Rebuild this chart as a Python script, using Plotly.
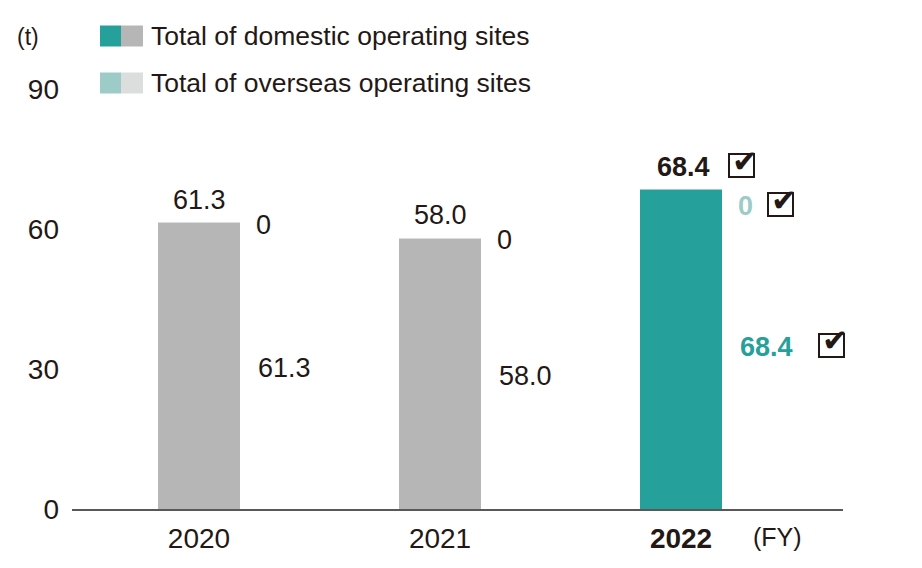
import plotly.graph_objects as go

# data
years = ["2020", "2021", "2022"]
domestic = [61.3, 58.0, 68.4]
overseas = [0, 0, 0]
totals = [61.3, 58.0, 68.4]
y_ticks = [0, 30, 60, 90]

TEAL = "#25a09a"
GRAY = "#b5b6b5"
LIGHT_TEAL = "#9dcbc8"
LIGHT_GRAY = "#dcdddd"
TEXT = "#231815"
FONT = "Liberation Sans"

# plot area in page pixels (page has an 8px body margin)
PL, PR, PT, PB = 72, 843, 89, 509
PW, PH = PR - PL, PB - PT


def px(xpix):
    return (xpix - PL) / PW


def py(ypix):
    return (PB - ypix) / PH


x_pos = list(range(len(years)))
latest = len(years) - 1

fig = go.Figure()
fig.add_trace(go.Bar(
    x=x_pos, y=domestic, width=0.34,
    marker=dict(color=[TEAL if i == latest else GRAY for i in x_pos], line=dict(width=0)),
    showlegend=False, hoverinfo="skip",
))
fig.add_trace(go.Bar(
    x=x_pos, y=overseas, width=0.34,
    marker=dict(color=[LIGHT_TEAL if i == latest else LIGHT_GRAY for i in x_pos],
                line=dict(width=1, color=[LIGHT_TEAL if i == latest else LIGHT_GRAY for i in x_pos])),
    showlegend=False, hoverinfo="skip",
))

annotations = []


def check(x, y, xshift, yshift):
    # box with a heavy check mark poking out of its top right corner
    annotations.append(dict(x=x, y=y, xref="x", yref="y", text=" ", showarrow=False,
                            xshift=xshift, yshift=yshift, width=23, height=21,
                            borderwidth=2, bordercolor=TEXT, borderpad=0,
                            font=dict(size=4)))
    annotations.append(dict(x=x, y=y, xref="x", yref="y", text="✔", showarrow=False,
                            xshift=xshift + 4, yshift=yshift + 5,
                            font=dict(family="DejaVu Sans", size=31, color=TEXT)))


for i in x_pos:
    hl = i == latest
    # total above bar
    annotations.append(dict(
        x=i, y=totals[i], xref="x", yref="y",
        text=f"<b>{totals[i]}</b>" if hl else str(totals[i]),
        showarrow=False, yshift=23, xshift=2 if hl else 0,
        font=dict(family=FONT, size=27, color=TEXT),
    ))
    # overseas value at top right
    annotations.append(dict(
        x=i, y=domestic[i] + overseas[i], xref="x", yref="y",
        text=f"<b>{overseas[i]}</b>" if hl else str(overseas[i]),
        showarrow=False, xanchor="left", xshift=55, yshift=-16 if hl else -2,
        font=dict(family=FONT, size=27, color=LIGHT_TEAL if hl else TEXT),
    ))
    # domestic value at middle right
    annotations.append(dict(
        x=i, y=domestic[i] / 2, xref="x", yref="y",
        text=f"<b>{domestic[i]}</b>" if hl else str(domestic[i]),
        showarrow=False, xanchor="left", xshift=57, yshift=2 if hl else -2,
        font=dict(family=FONT, size=27, color=TEAL if hl else TEXT),
    ))

check(latest, totals[latest], 60, 24)
check(latest, domestic[latest] + overseas[latest], 99, -15)
check(latest, domestic[latest] / 2, 150, 4)

# unit labels
annotations.append(dict(x=px(41), y=py(37), xref="paper", yref="paper", text="(t)",
                        showarrow=False, xanchor="right", yanchor="middle",
                        font=dict(family=FONT, size=23, color=TEXT)))
annotations.append(dict(x=latest, y=py(537), xref="x", yref="paper", text="(FY)",
                        showarrow=False, xanchor="left", yanchor="middle", xshift=70,
                        font=dict(family=FONT, size=25, color=TEXT)))

# legend built by hand
legend_rows = [
    ("Total of domestic operating sites", TEAL, GRAY, 36),
    ("Total of overseas operating sites", LIGHT_TEAL, LIGHT_GRAY, 83),
]
shapes = []
for label, c1, c2, cy in legend_rows:
    shapes.append(dict(type="rect", xref="paper", yref="paper",
                       x0=px(100), x1=px(121), y0=py(cy + 10.5), y1=py(cy - 10.5),
                       fillcolor=c1, line=dict(width=0)))
    shapes.append(dict(type="rect", xref="paper", yref="paper",
                       x0=px(121), x1=px(143), y0=py(cy + 10.5), y1=py(cy - 10.5),
                       fillcolor=c2, line=dict(width=0)))
    annotations.append(dict(x=px(149), y=py(cy), xref="paper", yref="paper",
                            text=label, showarrow=False, xanchor="left", yanchor="middle",
                            font=dict(family=FONT, size=26.5, color=TEXT)))

W, H = 914, 560
fig.update_layout(
    barmode="stack",
    width=W, height=H,
    margin=dict(l=PL - 8, r=W - (PR - 8), t=PT - 8, b=H - (PB - 8)),
    plot_bgcolor="white", paper_bgcolor="white",
    font=dict(family=FONT, size=26, color=TEXT),
    xaxis=dict(
        range=[-0.527, 2.672], tickmode="array", tickvals=x_pos,
        ticktext=[f"<b>{y}</b>" if i == latest else y for i, y in enumerate(years)],
        showline=True, linecolor="#595757", linewidth=1.5, ticks="", showgrid=False,
        zeroline=False, tickfont=dict(family=FONT, size=28, color=TEXT), ticklabelstandoff=4,
    ),
    yaxis=dict(
        range=[0, 90], tickmode="array", tickvals=y_ticks, showgrid=False, zeroline=False,
        showline=False, ticks="", tickfont=dict(family=FONT, size=28, color=TEXT),
        ticklabelstandoff=12,
    ),
    shapes=shapes,
    annotations=annotations,
)

fig.write_html("out.html")
